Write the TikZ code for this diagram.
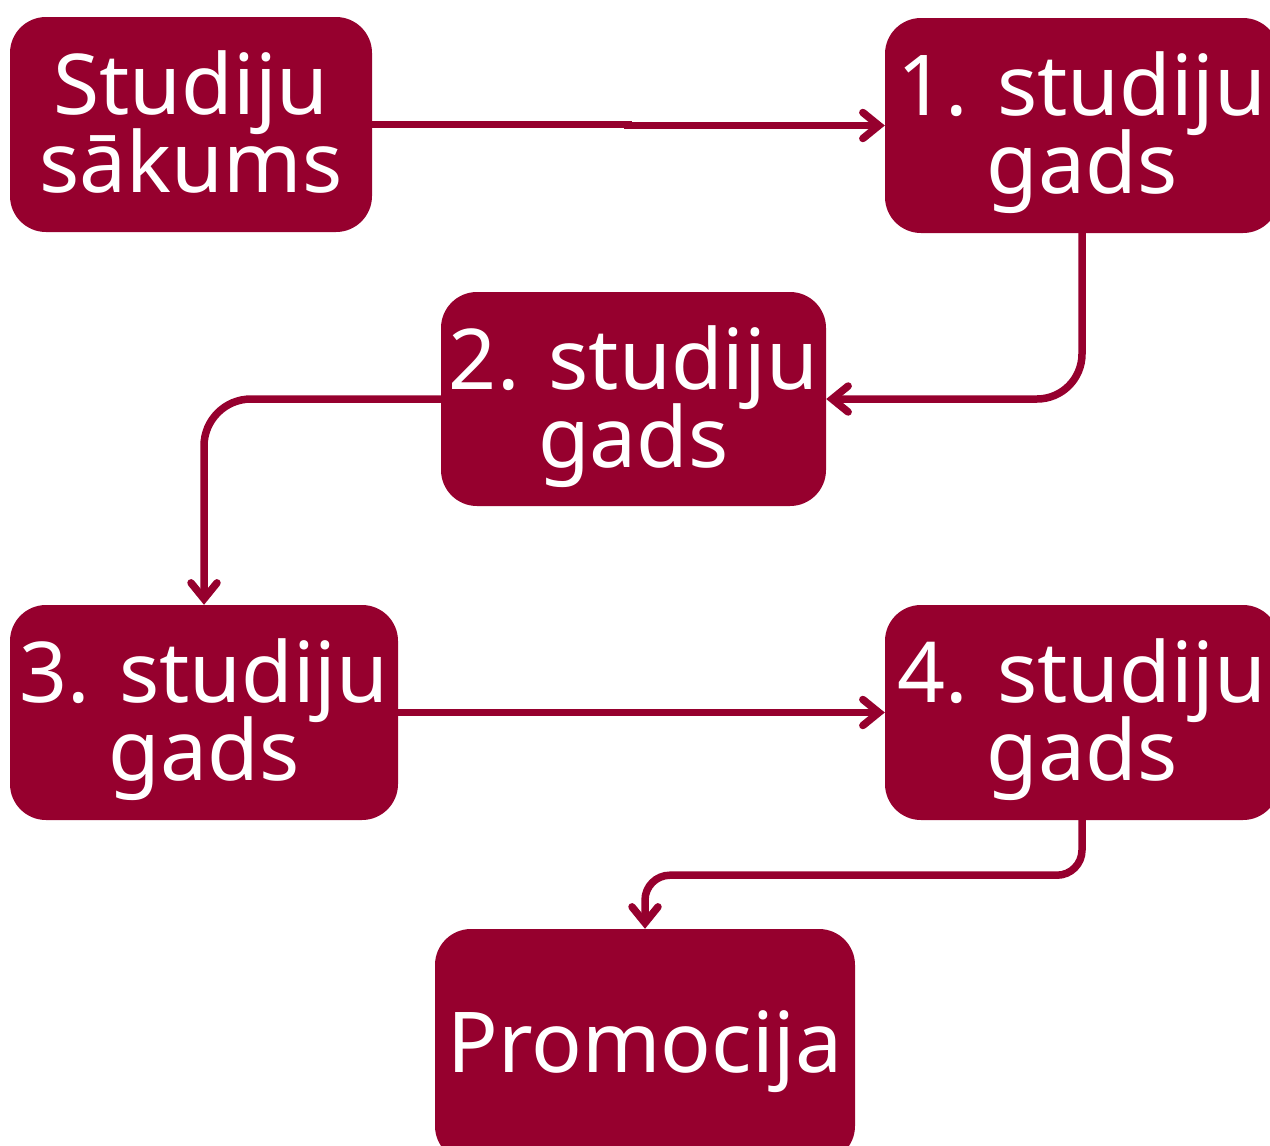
\documentclass[tikz,border=0pt]{standalone}
\usepackage{fontspec}
\setmainfont{Noto Sans}
\usetikzlibrary{arrows.meta}
\definecolor{maroon}{RGB}{150,0,46}
\newcommand\myboxfont{\fontsize{84}{78}\selectfont\lineskiplimit=-100pt\relax\lineskip=0pt\relax}
\begin{document}
\begin{tikzpicture}[x=1pt,y=-1pt,
  box/.style={fill=maroon, rounded corners=36pt, inner sep=0pt, align=center, text=white,
    font=\myboxfont},
  two/.style={text height=146pt, text depth=10pt},
  one/.style={text height=60pt, text depth=6pt},
  conn/.style={draw=maroon, line width=7.5pt, line cap=round,
    -{Straight Barb[length=16pt,width=26pt,line cap=round]}}]
\clip (0,0) rectangle (1270,1146);
\node[box, two, minimum width=362pt, minimum height=215pt] (a) at (191,124.5) {Studiju\\sākums};
\node[box, two, minimum width=394pt, minimum height=215pt] (b) at (1082,125.5) {1. studiju\\gads};
\node[box, two, minimum width=385pt, minimum height=214pt] (c) at (633.5,399) {2. studiju\\gads};
\node[box, two, minimum width=388pt, minimum height=215pt] (d) at (204,712.5) {3. studiju\\gads};
\node[box, two, minimum width=394pt, minimum height=215pt] (e) at (1082,712.5) {4. studiju\\gads};
\node[box, one, minimum width=420pt, minimum height=233pt] (f) at (645,1045.5) {Promocija};
\draw[conn] (a.east) -- ++(256,0) |- (b.west);
\draw[conn, rounded corners=45pt] (b.south) |- (c.east);
\draw[conn, rounded corners=47pt] (c.west) -| (d.north);
\draw[conn] (d.east) -- (e.west);
\draw[conn, rounded corners=25pt] (e.south) -- ++(0,55) -| (f.north);
\end{tikzpicture}
\end{document}
